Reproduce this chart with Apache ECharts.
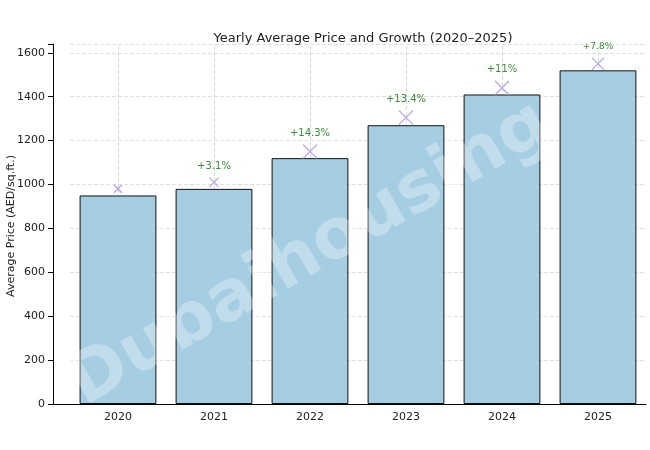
<!DOCTYPE html>
<html><head><meta charset="utf-8">
<script src="https://cdn.jsdelivr.net/npm/echarts@6/dist/echarts.min.js"></script>
<style>html,body{margin:0;padding:0;background:#fff}#c{width:650px;height:450px}</style>
</head><body><div id="c"></div>
<script>
const years = ['2020','2021','2022','2023','2024','2025'];
const prices = [950, 980, 1120, 1270, 1410, 1520];
const markerValues = [980, 1010, 1150, 1305, 1440, 1550];
const markerSizes = [8, 9, 14, 14, 14, 12];
const growthLabels = ['', '+3.1%', '+14.3%', '+13.4%', '+11%', '+7.8%'];
const labelSizes = [10, 10, 10, 10, 10, 9];

const chart = echarts.init(document.getElementById('c'));
chart.setOption({
  animation: false,
  title: {text: 'Yearly Average Price and Growth (2020–2025)', left: 358, top: 27, textAlign: 'center',
    textStyle: {fontFamily: 'DejaVu Sans', fontSize: 13, fontWeight: 'normal', color: '#222'}},
  grid: {left: 70, right: 4, top: 44, bottom: 46, outerBoundsMode: 'none', containLabel: false},
  xAxis: {type: 'category', data: years,
    axisLine: {lineStyle: {color: '#000'}}, axisTick: {alignWithLabel: true, lineStyle: {color: '#000'}},
    axisLabel: {fontFamily: 'DejaVu Sans', fontSize: 11, color: '#222'},
    splitLine: {show: false}},
  yAxis: {type: 'value', min: 0, max: 1640, interval: 200, offset: 17,
    axisLine: {show: true, lineStyle: {color: '#000'}}, axisTick: {show: true, lineStyle: {color: '#000'}},
    axisLabel: {fontFamily: 'DejaVu Sans', fontSize: 11, color: '#222', formatter: v => v > 1600 ? '' : v},
    splitLine: {lineStyle: {type: 'dashed', color: '#e0e0e0'}}},
  series: [
    {type: 'bar', data: prices, barWidth: '80%',
      itemStyle: {color: '#a6cee3', borderColor: '#111', borderWidth: 1},
      markLine: {silent: true, symbol: 'none', label: {show: false}, z: 0,
        lineStyle: {type: 'dashed', color: '#d8d8d8', width: 1},
        data: years.map(y => ({xAxis: y}))}},
    {type: 'scatter', symbol: 'path://M0,0L10,10M10,0L0,10',
      data: markerValues.map((v, i) => ({value: v, symbolSize: markerSizes[i],
        label: {show: !!growthLabels[i], formatter: growthLabels[i], fontSize: labelSizes[i]}})),
      itemStyle: {color: 'none', borderColor: '#b49ddc', borderWidth: 1.5},
      label: {position: 'top', distance: 4, color: '#0a6e0a', fontFamily: 'DejaVu Sans'}}
  ],
  graphic: [
    {type: 'line', shape: {x1: 53, y1: 404.5, x2: 71, y2: 404.5}, style: {stroke: '#000', lineWidth: 1}},
    {type: 'text', x: 11, y: 226, rotation: Math.PI/2,
      style: {text: 'Average Price (AED/sq.ft.)', fontSize: 11, fontFamily: 'DejaVu Sans', fill: '#222',
        align: 'center', verticalAlign: 'middle'}},
    {type: 'text', x: 310, y: 255, rotation: Math.PI/180*30,
    style: {text: 'Dubaihousing', x: 0, y: 0, fontSize: 70, fontWeight: 'bold', fontFamily: 'DejaVu Sans',
      fill: 'rgba(255,255,255,0.3)', align: 'center', verticalAlign: 'middle'}, z: 100}]
});
</script></body></html>
